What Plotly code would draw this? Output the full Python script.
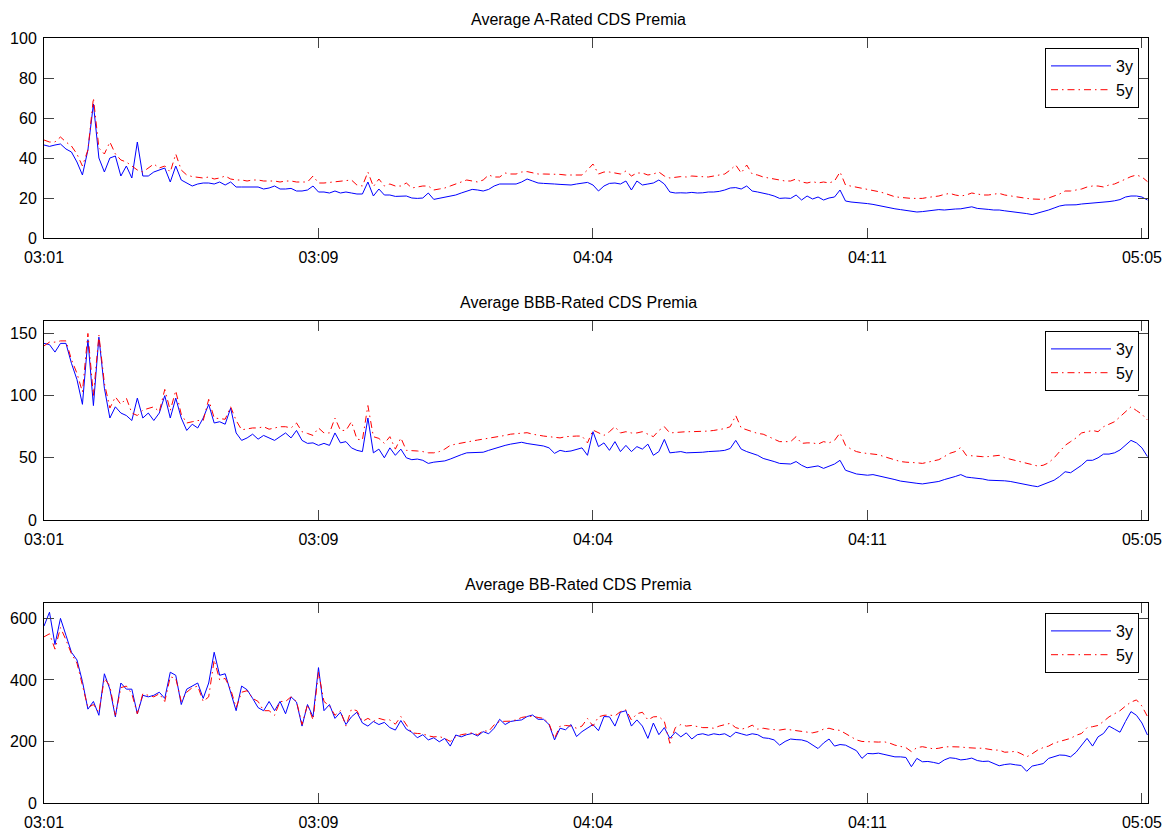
import plotly.graph_objects as go

# ---------------- data (sampled every 3 trading days) ----------------
tick_labels = ["03:01", "03:09", "04:04", "04:11", "05:05"]
tick_index = [0, 150, 300, 450, 600]
titles = ["Average A-Rated CDS Premia", "Average BBB-Rated CDS Premia", "Average BB-Rated CDS Premia"]
series_names = ["3y", "5y"]

A_3y = [
    46.5, 45.8, 46.5, 47, 44.5, 43, 38, 31.5, 44, 67,
    40, 33, 40, 41, 31, 36, 30, 48, 31, 31,
    33, 34, 35, 28, 36, 29, 27.5, 26, 27, 27.5,
    27.5, 27, 28, 26.5, 28, 25.5, 25.5, 25.5, 25.8, 25.5,
    24.5, 25, 26, 24.5, 24.5, 24.8, 23.5, 23.5, 24, 26,
    23, 23, 22.5, 23.5, 22.5, 23, 22.5, 22, 22, 28,
    21, 24.5, 21.5, 21.5, 20.8, 21, 21, 20, 19.8, 20,
    22.5, 19.3, 19.8, 20.5, 21, 21.5, 22.5, 23.5, 24.3, 24,
    23.5, 24.3, 26, 27, 27, 27.3, 27, 28, 29.5, 28.5,
    27.5, 27.3, 27, 27, 26.8, 26.5, 26.5, 27, 27.5, 27.8,
    26.5, 23.5, 26, 27.3, 27.5, 27, 28.5, 24, 28.5, 26.5,
    27, 27.5, 29, 27, 23, 22.5, 22.6, 22.5, 22.8, 22.5,
    22.6, 23, 23, 23.3, 24, 25, 25.2, 24.5, 26, 23.5,
    23, 22.5, 21.8, 21, 19.8, 20, 19.8, 21.5, 19, 21,
    19.5, 20.5, 19, 20, 20.5, 24, 18.5, 18, 17.8, 17.5,
    17.2, 16.8, 16.2, 15.8, 15.2, 14.6, 14.2, 13.8, 13.5, 13,
    13.2, 13.5, 13.6, 14.2, 14, 14.4, 14.5, 14.6, 15, 15.6,
    14.8, 14.4, 14.3, 14, 14, 13.6, 13.3, 13, 12.6, 12.2,
    11.7, 12.5, 13, 14, 15, 16, 16.5, 16.4, 16.6, 17,
    17.2, 17.6, 17.8, 18, 18.2, 18.6, 19.2, 20.5, 21, 21,
    20.5, 19,
]
A_5y = [
    49, 48, 48, 50.5, 48, 46, 42, 36, 44, 70,
    45, 42, 48, 42, 39, 38, 36, 34, 33, 35,
    37, 35, 36, 33, 42, 34, 31.5, 30.7, 30.5, 30,
    30.5, 29.5, 30, 31, 29.5, 29, 29, 28.5, 29, 29,
    28.5, 28.5, 28.5, 28, 28.5, 28.5, 28, 28, 28, 31,
    27.5, 27.5, 27.8, 28, 28.5, 28.5, 29, 26.5, 26, 33,
    25.7, 29.5, 26, 27, 26, 26, 27.5, 25, 25.5, 26,
    26, 24, 24.5, 25, 26, 27, 28, 29, 28.5, 28,
    29, 31.5, 30.5, 30.5, 32.5, 32, 32, 33, 33.2, 32.5,
    32, 32, 32, 32, 31.8, 31.5, 31.5, 31.5, 31.5, 34,
    37, 32, 33, 33, 32.5, 32, 33.5, 31, 32.5, 32.5,
    31.5, 32, 33, 31, 30, 30.5, 30.7, 30.5, 31, 30.8,
    30.5, 30.5, 31, 31.5, 32, 34, 36.5, 32.5, 36.5, 32,
    31.5, 30.5, 30, 29.5, 29, 28.5, 28.5, 29.5, 28, 27.5,
    28.2, 27.5, 28, 27.5, 28.5, 33, 26.5, 26, 25.5, 24.8,
    24.3, 23.8, 23.2, 22.5, 21.5, 20.6, 20.3, 20, 19.8, 19.8,
    19.8, 20.3, 20.7, 21, 21.8, 22.3, 21.5, 21, 21.5, 22.5,
    22, 21.5, 21.5, 22, 22.3, 21.5, 21, 20.6, 20, 19.8,
    19.5, 19.3, 19.3, 20, 21, 22, 23.5, 23.5, 24, 24.5,
    25.5, 26, 26, 25.5, 26.5, 27, 28.2, 29.5, 30.7, 31.5,
    30.5, 28.2,
]
BBB_3y = [
    142, 141, 135, 142, 142, 126, 113, 93, 145, 92,
    147, 106, 82, 91, 86, 84, 80, 98, 82, 86,
    80, 86, 100, 82, 98, 82, 72, 77, 74, 82,
    93, 78, 79, 77, 90, 70, 64, 66, 69, 65,
    68, 66, 64, 67, 70, 66, 72, 64, 61.6, 62,
    60, 61.6, 60, 70, 62, 63, 58, 56, 55, 82,
    54, 57, 50, 58, 52, 57, 50, 48.5, 49, 48,
    45.5, 46.5, 47, 47.5, 49, 51, 52.5, 54, 54, 54,
    54.5, 56, 57.5, 59, 60, 61, 61.6, 62.5, 61.5, 61,
    60.5, 59.5, 58, 53.6, 56, 55, 55.5, 57, 58, 52,
    71, 59, 62, 56, 63, 55, 60, 55, 59, 57,
    61, 52, 55, 64.8, 54, 54.5, 55, 54, 54, 54.5,
    54.5, 55, 55, 55.5, 56, 57.5, 64, 57, 55, 53.5,
    52, 49.5, 48.5, 47, 45.5, 45, 45, 47, 44, 42,
    42.5, 43.5, 41.5, 43.5, 45, 48, 40, 38.5, 37, 36.5,
    36, 36.5, 35.5, 35, 34, 32.5, 31.3, 30.5, 30, 29.5,
    29, 29.5, 30, 31, 32.5, 33.5, 35, 36.5, 34.5, 34,
    33.8, 33, 32, 32, 32, 31.5, 31, 30, 29, 28.5,
    27.5, 26.8, 28.5, 30, 32, 35, 38.8, 38, 41, 44,
    48, 48, 50, 53, 53, 54, 56.3, 60, 64, 62,
    58, 51,
]
BBB_5y = [
    140, 143, 143, 144, 144, 129, 118, 103, 150, 100,
    148.7, 110, 90, 99, 93, 98, 86, 84, 88.4, 90,
    91, 87, 105, 88, 104, 85, 78, 79, 80, 80,
    97, 82, 81.7, 81, 91, 80, 72.5, 73.5, 74, 74,
    75, 73, 74, 75, 75, 74, 78, 71, 69.6, 68,
    74, 70, 70, 82, 72, 72, 79, 65, 64.3, 92,
    67, 65.6, 61.6, 67, 57, 66, 56, 56, 55.5, 55,
    54, 54, 55, 57, 60, 61, 62, 63, 63.5, 64.3,
    65, 65.5, 66.5, 67.5, 68, 69, 69.6, 70, 70.2, 69,
    68, 67.5, 67, 66.5, 66, 67, 67.5, 67.5, 67.5, 62,
    72.3, 70, 68, 71, 75, 70, 71, 70, 70, 71,
    69, 67, 72, 75, 70, 70.5, 71, 71, 71, 71,
    71, 71.5, 72, 72.5, 73.5, 75, 84, 74, 72.5, 71.5,
    69.6, 69, 67, 65, 63, 63, 63, 67, 61.6, 62,
    62, 61, 63, 62, 64, 70, 60, 57, 55, 54,
    53.5, 53, 52.5, 51, 49.6, 48, 47, 46.5, 46.5, 46,
    45.5, 46.5, 47.5, 48.5, 51, 53.6, 55, 58.4, 52, 51.5,
    50.9, 50.9, 51, 51.5, 52, 50, 49, 48, 47, 46,
    45, 43.4, 44, 46, 50, 55, 60, 63, 66, 70,
    71, 72, 71, 75, 77, 79, 83, 87, 91, 88,
    85, 80.4,
]
BB_3y = [
    575, 620, 515, 600, 545, 490, 465, 395, 305, 330,
    285, 420, 370, 280, 390, 370, 370, 290, 350, 345,
    350, 360, 340, 425, 415, 320, 370, 380, 390, 340,
    390, 490, 415, 420, 360, 300, 380, 368, 340, 310,
    300, 330, 300, 330, 290, 345, 328, 250, 320, 280,
    440, 300, 320, 275, 295, 255, 280, 295, 260, 250,
    265, 255, 262, 245, 237, 268, 240, 230, 212, 222,
    205, 212, 199, 210, 185, 221, 215, 222, 226, 218,
    232, 225, 243, 272, 255, 265, 268, 270, 281, 286,
    272, 272, 255, 205, 243, 238, 255, 216, 232, 243,
    255, 235, 281, 280, 250, 295, 300, 250, 270, 250,
    210, 260, 222, 245, 210, 230, 215, 228, 208, 222,
    225, 220, 225, 222, 225, 215, 230, 225, 220, 225,
    222, 212, 210, 205, 188, 200, 208, 206, 205, 200,
    188, 177, 195, 208, 185, 190, 188, 180, 170, 145,
    161, 160, 162, 158, 155, 150, 150, 148, 118, 145,
    134, 135, 132, 128, 140, 147, 145, 140, 142, 146,
    138, 135, 136, 128, 121, 125, 127, 124, 122, 103,
    120, 124, 128, 145, 150, 156, 155, 150, 165, 188,
    210, 185, 215, 226, 250, 240, 230, 265, 297, 285,
    260, 221,
]
BB_5y = [
    540, 550, 500, 570, 530, 485, 455, 380, 310, 320,
    295, 405, 380, 285, 375, 380, 355, 290, 355, 350,
    345, 355, 330, 410, 405, 330, 360, 375, 380, 330,
    345, 465, 400, 405, 370, 310, 360, 365, 340, 330,
    300, 300, 285, 330, 330, 345, 330, 255, 320, 270,
    425, 330, 315, 285, 300, 250, 305, 300, 265, 275,
    265, 275, 270, 270, 256, 281, 255, 228, 226, 225,
    218, 215, 216, 210, 200, 215, 222, 226, 228, 222,
    235, 233, 254, 265, 265, 266, 270, 278, 281, 282,
    278, 275, 258, 210, 250, 252, 250, 243, 250, 275,
    250, 280, 285, 286, 283, 297, 303, 270, 290, 295,
    270, 280, 281, 265, 194, 245, 255, 250, 252, 248,
    245, 245, 243, 250, 255, 259, 245, 240, 244, 253,
    240, 243, 240, 238, 237, 240, 238, 235, 233, 232,
    228, 232, 240, 243, 238, 236, 225, 214, 205, 200,
    199, 199, 198, 199, 195, 188, 185, 180, 167, 180,
    183, 180, 176, 178, 182, 183, 183, 182, 180, 178,
    178, 178, 174, 172, 172, 165, 166, 168, 160, 150,
    160, 172, 180, 185, 195, 199, 205, 210, 220, 226,
    245, 248, 252, 265, 280, 290, 300, 315, 328, 335,
    315, 281,
]

y_ranges = [[0, 100], [0, 160], [0, 650]]
y_ticks = [[0, 20, 40, 60, 80, 100], [0, 50, 100, 150], [0, 200, 400, 600]]

# ---------------- figure ----------------
FONT = "Liberation Sans, Arial, Helvetica, sans-serif"
fig = go.Figure()

panels = [(A_3y, A_5y), (BBB_3y, BBB_5y), (BB_3y, BB_5y)]
W, H = 1164, 833
ml, mr, mt, mb = 44, 16, 38, 30
pw = W - ml - mr
ph = H - mt - mb
rows_px = [(38, 238), (321, 520), (603, 803)]  # pixel rows of each plot area


def py_to_paper(py):
    return (H - mb - py) / ph


def px_to_paper(px):
    return (px - ml) / pw


domains = [[py_to_paper(b), py_to_paper(t)] for t, b in rows_px]

legend_names = ["legend", "legend2", "legend3"]
for k, (s3, s5) in enumerate(panels):
    ax = "" if k == 0 else str(k + 1)
    x3 = [3 * j for j in range(len(s3))]
    x5 = [3 * j for j in range(len(s5))]
    fig.add_trace(go.Scatter(x=x3, y=s3, mode="lines", name=series_names[0],
                             line=dict(color="#0000FF", width=1),
                             xaxis="x" + ax, yaxis="y" + ax, legend=legend_names[k]))
    fig.add_trace(go.Scatter(x=x5, y=s5, mode="lines", name=series_names[1],
                             line=dict(color="#FF0000", width=1, dash="7px,4px,1.5px,4px"),
                             xaxis="x" + ax, yaxis="y" + ax, legend=legend_names[k]))

layout = dict(
    width=W, height=H,
    margin=dict(l=ml, r=mr, t=mt, b=mb, autoexpand=False),
    plot_bgcolor="white", paper_bgcolor="white",
    font=dict(family=FONT, size=16, color="black"),
    annotations=[],
)
for k in range(3):
    ax = "" if k == 0 else str(k + 1)
    layout["xaxis" + ax] = dict(
        domain=[0, 1], anchor="y" + ax, range=[0, 603.3],
        tickmode="array", tickvals=tick_index, ticktext=tick_labels,
        ticks="inside", ticklen=10, tickcolor="#444", showline=True, mirror="ticks",
        linecolor="black", linewidth=1, showgrid=False, zeroline=False,
        tickfont=dict(family=FONT, size=16, color="black"), automargin=False,
        ticklabelstandoff=5,
    )
    layout["yaxis" + ax] = dict(
        domain=domains[k], anchor="x" + ax, range=y_ranges[k],
        tickmode="array", tickvals=y_ticks[k],
        ticks="inside", ticklen=10, tickcolor="#444", showline=True, mirror="ticks",
        linecolor="black", linewidth=1, showgrid=False, zeroline=False,
        tickfont=dict(family=FONT, size=16, color="black"), automargin=False,
        ticklabelstandoff=3,
    )
    layout["annotations"].append(dict(
        text=titles[k], xref="x" + ax + " domain", yref="y" + ax + " domain",
        x=px_to_paper(578), y=1, yshift=19, xanchor="center", yanchor="middle",
        showarrow=False, font=dict(family=FONT, size=16, color="black"),
    ))
    top_px = rows_px[k][0] + 10
    layout[legend_names[k]] = dict(
        x=px_to_paper(1139), xanchor="right", xref="paper",
        y=py_to_paper(top_px), yanchor="top", yref="paper",
        bgcolor="white", bordercolor="black", borderwidth=1,
        font=dict(family=FONT, size=16, color="black"),
        itemwidth=60, tracegroupgap=0,
    )

fig.update_layout(**layout)
# remove the default 8px page margin so the figure fills the window exactly
fig.write_html(
    "out.html",
    config={"displayModeBar": False},
    post_script="document.body.style.margin='0';document.body.style.overflow='hidden';",
)
